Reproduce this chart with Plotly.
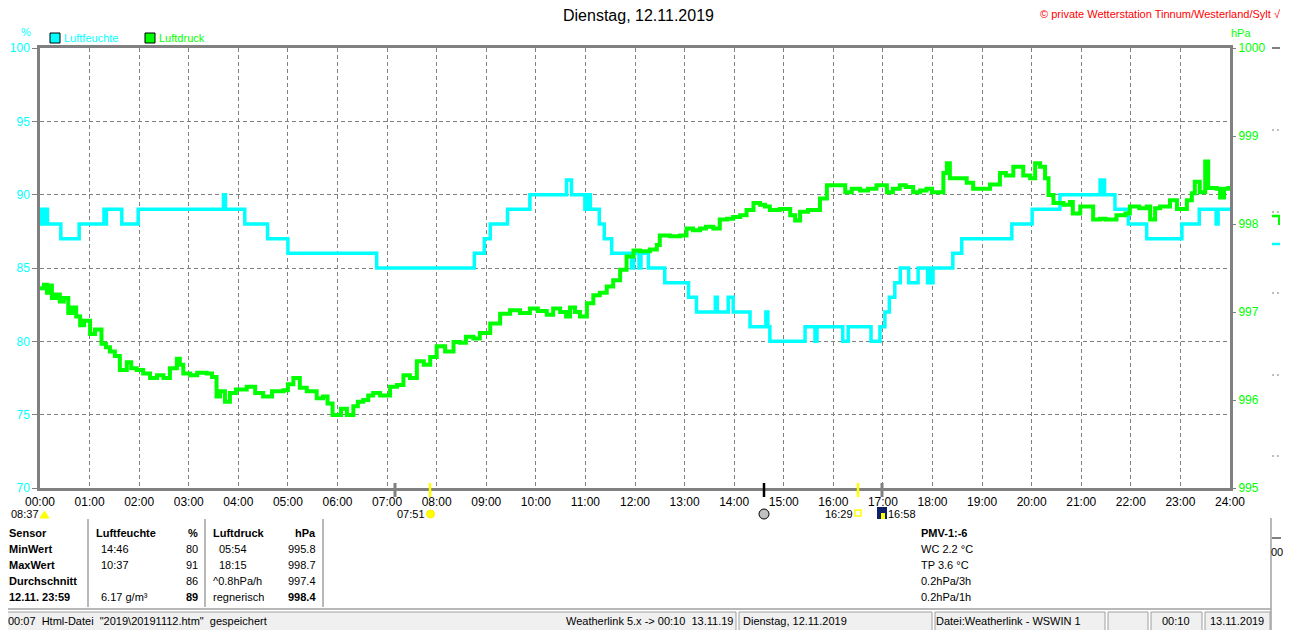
import plotly.graph_objects as go

# --- data ---
hum_t = [0.0, 0.03, 0.06, 0.1, 0.15, 0.42, 0.79, 1.29, 1.32, 1.34, 1.65, 1.98, 3.70, 3.74,
         4.13, 4.59, 5.0, 6.79, 8.76, 8.96, 9.08, 9.43, 9.88, 10.62, 10.72, 10.99, 11.02,
         11.06, 11.08, 11.1, 11.28, 11.38, 11.53, 11.93, 11.97, 12.08, 12.12, 12.27, 12.6,
         13.08, 13.24, 13.62, 13.66, 13.88, 13.98, 14.32, 14.64, 14.68, 14.72, 15.43, 15.63,
         15.67, 16.19, 16.3, 16.76, 16.94, 17.04, 17.13, 17.24, 17.35, 17.52, 17.71, 17.9,
         17.92, 17.99, 18.01, 18.41, 18.59, 19.6, 20.01, 20.57, 21.38, 21.41, 21.44, 21.47,
         21.68, 21.95, 22.32, 23.03, 23.38, 23.72, 23.76, 24.0]
hum_v = [88, 89, 88, 89, 88, 87, 88, 89, 88, 89, 88, 89, 90, 89,
         88, 87, 86, 85, 86, 87, 88, 89, 90, 91, 90, 89, 90,
         89, 90, 89, 88, 87, 86, 85, 86, 85, 86, 85, 84,
         83, 82, 83, 82, 83, 82, 81, 82, 81, 80, 81, 80,
         81, 80, 81, 80, 81, 82, 83, 84, 85, 84, 85, 84,
         85, 84, 85, 86, 87, 88, 89, 90, 91, 90, 91, 90,
         89, 88, 87, 88, 89, 88, 89, 89]

pres_t = [0.0, 0.08, 0.14, 0.2, 0.24, 0.32, 0.40, 0.48, 0.57, 0.65, 0.73, 0.81, 0.89, 1.01,
          1.11, 1.24, 1.33, 1.41, 1.51, 1.61, 1.75, 1.84, 1.95, 2.08, 2.22, 2.36, 2.49, 2.62,
          2.76, 2.82, 2.89, 3.03, 3.17, 3.36, 3.47, 3.56, 3.63, 3.73, 3.83, 3.95, 4.17, 4.34,
          4.50, 4.68, 4.91, 5.0, 5.11, 5.24, 5.38, 5.58, 5.71, 5.80, 5.90, 6.07, 6.19, 6.32,
          6.41, 6.52, 6.62, 6.72, 6.86, 7.06, 7.2, 7.33, 7.46, 7.60, 7.74, 7.87, 8.0, 8.17,
          8.34, 8.47, 8.59, 8.74, 8.87, 9.08, 9.28, 9.48, 9.68, 9.88, 10.04, 10.22, 10.35,
          10.49, 10.61, 10.69, 10.79, 10.89, 11.03, 11.16, 11.29, 11.43, 11.56, 11.70, 11.83,
          11.97, 12.10, 12.30, 12.44, 12.50, 12.71, 12.91, 13.04, 13.17, 13.31, 13.43, 13.58,
          13.71, 13.86, 13.98, 14.12, 14.25, 14.39, 14.52, 14.62, 14.72, 14.92, 15.13, 15.23,
          15.33, 15.49, 15.63, 15.73, 15.87, 16.07, 16.24, 16.37, 16.54, 16.70, 16.87, 17.08,
          17.20, 17.34, 17.46, 17.61, 17.75, 17.88, 17.99, 18.08, 18.22, 18.29, 18.35, 18.55,
          18.69, 18.82, 18.96, 19.16, 19.36, 19.48, 19.63, 19.83, 19.97, 20.07, 20.17, 20.27,
          20.34, 20.44, 20.64, 20.77, 20.83, 20.98, 21.18, 21.24, 21.38, 21.49, 21.71, 21.89,
          21.98, 22.17, 22.32, 22.39, 22.49, 22.59, 22.79, 22.93, 23.13, 23.23, 23.29, 23.39,
          23.50, 23.56, 23.73, 23.80, 23.88, 23.97, 24.0]
pres_v = [997.27, 997.31, 997.22, 997.30, 997.16, 997.20, 997.12, 997.16, 996.99, 997.05,
          996.95, 996.85, 996.90, 996.75, 996.80, 996.64, 996.60, 996.55, 996.50, 996.34,
          996.43, 996.36, 996.34, 996.30, 996.25, 996.28, 996.25, 996.36, 996.47, 996.40,
          996.30, 996.28, 996.31, 996.30, 996.26, 996.04, 996.10, 995.98, 996.08, 996.12,
          996.15, 996.08, 996.04, 996.10, 996.11, 996.18, 996.25, 996.14, 996.10, 996.02,
          996.04, 995.96, 995.83, 995.90, 995.83, 995.93, 995.98, 996.00, 996.05, 996.08,
          996.05, 996.15, 996.17, 996.28, 996.25, 996.44, 996.40, 996.49, 996.61, 996.55,
          996.66, 996.65, 996.72, 996.70, 996.76, 996.87, 996.98, 997.02, 996.99, 997.04,
          997.01, 996.97, 997.04, 997.00, 996.95, 997.05, 997.00, 996.95, 997.10, 997.19,
          997.22, 997.29, 997.36, 997.48, 997.63, 997.70, 997.69, 997.71, 997.76, 997.87,
          997.86, 997.87, 997.95, 997.93, 997.95, 997.97, 997.95, 998.05, 998.06, 998.08,
          998.10, 998.16, 998.24, 998.22, 998.20, 998.16, 998.17, 998.10, 998.04, 998.14,
          998.16, 998.16, 998.29, 998.44, 998.44, 998.36, 998.40, 998.38, 998.40, 998.44,
          998.36, 998.40, 998.44, 998.42, 998.36, 998.38, 998.40, 998.36, 998.36, 998.58,
          998.69, 998.52, 998.52, 998.47, 998.40, 998.40, 998.45, 998.58, 998.55, 998.65,
          998.55, 998.52, 998.69, 998.65, 998.52, 998.33, 998.24, 998.22, 998.25, 998.12,
          998.20, 998.20, 998.05, 998.06, 998.05, 998.10, 998.12, 998.20, 998.18, 998.20,
          998.05, 998.18, 998.20, 998.27, 998.17, 998.27, 998.35, 998.48, 998.36, 998.71,
          998.41, 998.40, 998.30, 998.40, 998.41, 998.41]

hour_ticks = list(range(25))
hour_labels = ["%02d:00" % h for h in hour_ticks]
hum_ticks = [70, 75, 80, 85, 90, 95, 100]
pres_ticks = [995, 996, 997, 998, 999, 1000]

table_rows = ["Sensor", "MinWert", "MaxWert", "Durchschnitt", "12.11. 23:59"]
hum_times = ["Luftfeuchte", "14:46", "10:37", "", "6.17 g/m³"]
hum_vals = ["%", "80", "91", "86", "89"]
pres_times = ["Luftdruck", "05:54", "18:15", "^0.8hPa/h", "regnerisch"]
pres_vals = ["hPa", "995.8", "998.7", "997.4", "998.4"]
extra_info = ["PMV-1:-6", "WC 2.2 °C", "TP 3.6 °C", "0.2hPa/3h", "0.2hPa/1h"]

# the page body has an 8px margin, so the figure is drawn 8px smaller and shifted
OFF = 8
W, H = 1310 - OFF, 630 - OFF
L, R, T, B = 40, 1230, 48, 488      # plot frame in screen pixels
CYAN = "#00FFFF"
GREEN = "#00FF00"
GRAY = "#808080"
FONT = "Liberation Sans"


def px(x):
    return (x - L) / (R - L)


def py(y):
    return (B - y) / (B - T)


fig = go.Figure()
fig.add_trace(go.Scatter(x=hum_t, y=hum_v, mode="lines", line=dict(color=CYAN, width=3.5, shape="hv"),
                         name="Luftfeuchte", yaxis="y"))
fig.add_trace(go.Scatter(x=pres_t, y=pres_v, mode="lines", line=dict(color=GREEN, width=4, shape="hv"),
                         name="Luftdruck", yaxis="y2"))

fig.update_layout(
    width=W, height=H,
    margin=dict(l=L - OFF, r=W - (R - OFF), t=T - OFF, b=H - (B - OFF)),
    paper_bgcolor="white", plot_bgcolor="white", showlegend=False,
    font=dict(family=FONT, size=11, color="black"),
    xaxis=dict(range=[0, 24], tickvals=hour_ticks, ticktext=hour_labels, showgrid=True,
               gridcolor=GRAY, griddash="4px,3px", gridwidth=1, showline=True, linecolor=GRAY,
               linewidth=2.5, mirror=True, ticks="", zeroline=False, tickfont=dict(size=12),
               ticklabelstandoff=1, automargin=False),
    yaxis=dict(range=[70, 100], tickvals=hum_ticks, showgrid=True, gridcolor=GRAY,
               griddash="4px,3px", gridwidth=1, showline=True, linecolor=GRAY, linewidth=2.5,
               mirror=True, ticks="outside", ticklen=5, tickcolor=GRAY, zeroline=False,
               tickfont=dict(color=CYAN, size=12), automargin=False),
    yaxis2=dict(range=[995, 1000], tickvals=pres_ticks, overlaying="y", side="right",
                showgrid=False, zeroline=False, ticks="outside", ticklen=5, tickcolor=GRAY,
                tickfont=dict(color=GREEN, size=12), automargin=False),
)

ann = []
shapes = []


def text(x, y, s, color="black", size=11, anchor="left", bold=False):
    if bold:
        s = "<b>" + s + "</b>"
    ann.append(dict(x=px(x), y=py(y), xref="paper", yref="paper", text=s, showarrow=False,
                    xanchor=anchor, yanchor="middle", borderpad=0,
                    font=dict(color=color, size=size, family=FONT)))


def rect(x0, y0, x1, y1, fill=None, line=None, lw=1):
    shapes.append(dict(type="rect", xref="paper", yref="paper", x0=px(x0), x1=px(x1),
                       y0=py(y1), y1=py(y0), fillcolor=fill or "rgba(0,0,0,0)",
                       line=dict(color=line or "rgba(0,0,0,0)", width=lw if line else 0)))


def seg(x0, y0, x1, y1, color, lw=1):
    shapes.append(dict(type="line", xref="paper", yref="paper", x0=px(x0), x1=px(x1),
                       y0=py(y0), y1=py(y1), line=dict(color=color, width=lw)))


# title / headers
text(638, 15, "Dienstag, 12.11.2019", size=16, anchor="center")
text(1282, 14, "© private Wetterstation Tinnum/Westerland/Sylt √", color="#FF0000", size=11,
     anchor="right")
text(26, 32, "%", color=CYAN, size=11, anchor="center")
text(1230, 33, "hPa", color=GREEN, size=11)
rect(50, 33, 60, 43, fill=CYAN, line="black")
text(63, 38, "Luftfeuchte", color=CYAN)
rect(145, 33, 155, 43, fill=GREEN, line="black")
text(158, 38, "Luftdruck", color=GREEN)

# markers on the time axis
seg(395, 483, 395, 497, GRAY, 3)
seg(882, 483, 882, 497, GRAY, 3)
seg(430, 483, 430, 497, "#FFFF00", 2.5)
seg(858, 483, 858, 497, "#FFFF00", 2.5)
seg(764, 483, 764, 497, "black", 2.5)

text(10, 514, "08:37")
shapes.append(dict(type="path", xref="paper", yref="paper",
                   path="M %f,%f L %f,%f L %f,%f Z" % (px(40), py(518), px(49), py(518), px(44.5), py(511)),
                   fillcolor="#FFFF00", line=dict(color="#FFFF00", width=1)))
text(396, 514, "07:51")
shapes.append(dict(type="circle", xref="paper", yref="paper", x0=px(426.5), x1=px(434.5),
                   y0=py(518), y1=py(510), fillcolor="#FFFF00", line=dict(color="#FFEE00", width=1)))
shapes.append(dict(type="circle", xref="paper", yref="paper", x0=px(759), x1=px(769),
                   y0=py(519), y1=py(509), fillcolor="#C0C0C0", line=dict(color="black", width=1)))
text(824, 514, "16:29")
rect(855, 510, 861, 516, line="#FFFF00", lw=1.5)
rect(877, 507, 887, 519, fill="#10206A")
rect(881, 513, 885, 519, fill="#FFFF00")
text(887, 514, "16:58")

# table
row_y = [533, 549, 565, 581, 597]
for i, y in enumerate(row_y):
    head = i == 0
    text(8, y, table_rows[i], bold=True)
    text(100 if i else 95, y, hum_times[i], bold=head)
    text(199, y, hum_vals[i], bold=head or i == 4, anchor="right")
    text(218 if 0 < i < 3 else 212, y, pres_times[i], bold=head)
    text(317, y, pres_vals[i], bold=head or i == 4, anchor="right")
    text(920, y, extra_info[i], bold=head)
for xs in (88, 205, 323):
    seg(xs, 519, xs, 607, "#A0A0A0", 1.5)
seg(1271, 518, 1271, 630, "#A0A0A0", 1.5)
seg(1272, 538, 1281, 538, GRAY, 2)
text(1270, 552, "00")

# leftover scale marks at the right border
for yy in (130, 212, 293, 375, 456):
    seg(1272, yy, 1274, yy, GRAY, 1)
    seg(1277, yy, 1279, yy, GRAY, 1)
seg(1272, 48, 1280, 48, GRAY, 2)
seg(1272, 216, 1280, 216, GREEN, 2.5)
seg(1279, 215, 1279, 225, GREEN, 2)
seg(1272, 244, 1280, 244, CYAN, 2.5)

# status bar
seg(0, 609, 1271, 609, "#A0A0A0", 1.5)
for x0, x1 in ((2, 736), (739, 932), (935, 1105), (1108, 1148), (1151, 1202), (1205, 1270)):
    rect(x0, 612, x1, 631, fill="#F0F0F0", line="#A0A0A0", lw=1)
text(7, 621, '00:07  Html-Datei  "2019\\20191112.htm"  gespeichert')
text(734, 621, "Weatherlink 5.x -> 00:10  13.11.19", anchor="right")
text(742, 621, "Dienstag, 12.11.2019")
text(935, 621, "Datei:Weatherlink - WSWIN 1")
text(1176, 621, "00:10", anchor="center")
text(1237, 621, "13.11.2019", anchor="center")

fig.update_layout(annotations=ann, shapes=shapes)
fig.write_html("out.html")
